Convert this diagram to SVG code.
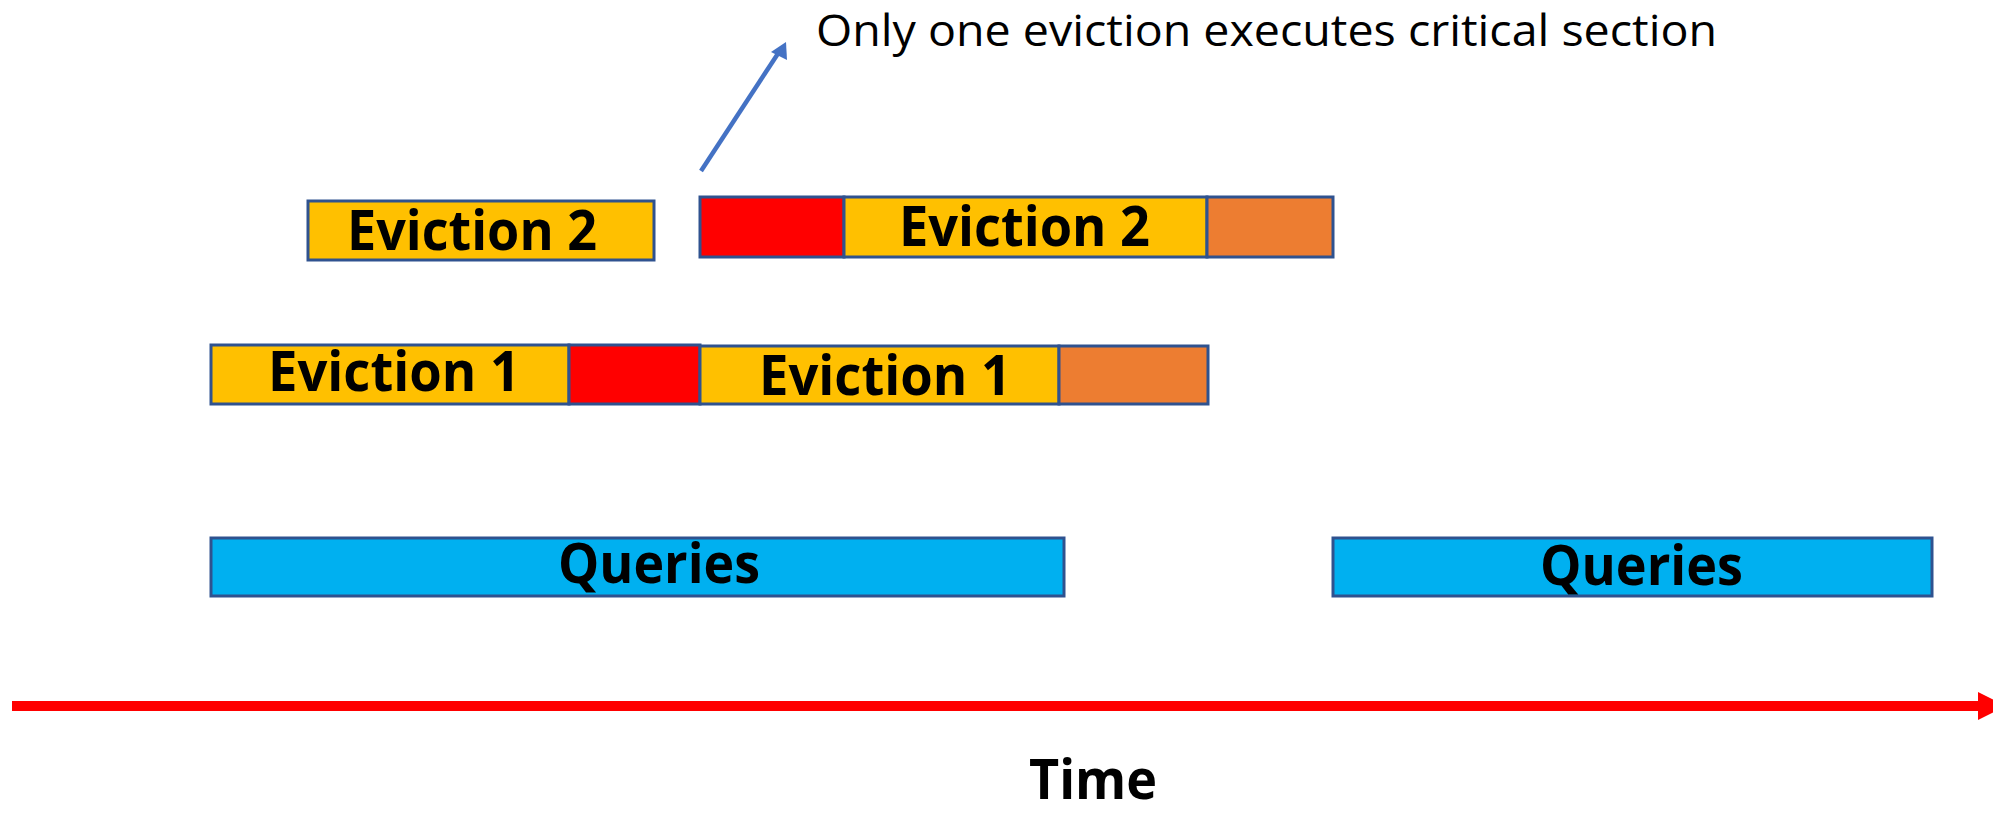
<svg xmlns="http://www.w3.org/2000/svg" width="1993" height="816" viewBox="0 0 1993 816">
  <style>
    .seg { stroke: #2F528F; stroke-width: 3; }
    .wait { fill: #FFC000; }
    .crit { fill: #FF0000; }
    .post { fill: #ED7D31; }
    .query { fill: #00B0F0; }
    .lbl { font-family: "Open Sans", "Noto Sans", "Liberation Sans", sans-serif; font-weight: bold; font-size: 56px; fill: #000; }
    .note { font-family: "Open Sans", "Noto Sans", "Liberation Sans", sans-serif; font-size: 44px; fill: #000; }
  </style>
  <rect width="1993" height="816" fill="#FFFFFF"/>

  <!-- Eviction 2, first attempt -->
  <g id="eviction2-a">
    <rect class="seg wait" x="308" y="201" width="346" height="59"/>
    <text class="lbl" x="347" y="250" textLength="250" lengthAdjust="spacingAndGlyphs">Eviction 2</text>
  </g>

  <!-- Eviction 2, second attempt: critical, work, tail -->
  <g id="eviction2-b">
    <rect class="seg crit" x="700" y="197" width="144" height="60"/>
    <rect class="seg wait" x="844" y="197" width="363" height="60"/>
    <rect class="seg post" x="1207" y="197" width="126" height="60"/>
    <text class="lbl" x="899" y="246" textLength="251" lengthAdjust="spacingAndGlyphs">Eviction 2</text>
  </g>

  <!-- Eviction 1: work, critical, work, tail -->
  <g id="eviction1">
    <rect class="seg wait" x="211" y="345" width="358" height="59"/>
    <rect class="seg crit" x="569" y="345" width="131" height="59"/>
    <rect class="seg wait" x="700" y="346" width="359" height="58"/>
    <rect class="seg post" x="1059" y="346" width="149" height="58"/>
    <text class="lbl" x="268" y="391" textLength="252" lengthAdjust="spacingAndGlyphs">Eviction 1</text>
    <text class="lbl" x="759" y="395" textLength="252" lengthAdjust="spacingAndGlyphs">Eviction 1</text>
  </g>

  <!-- Query phases -->
  <g id="queries-a">
    <rect class="seg query" x="211" y="538" width="853" height="58"/>
    <text class="lbl" x="558" y="583" textLength="202" lengthAdjust="spacingAndGlyphs">Queries</text>
  </g>
  <g id="queries-b">
    <rect class="seg query" x="1333" y="538" width="599" height="58"/>
    <text class="lbl" x="1540" y="585" textLength="203" lengthAdjust="spacingAndGlyphs">Queries</text>
  </g>

  <!-- Annotation -->
  <g id="note">
    <text class="note" x="816" y="46" textLength="901" lengthAdjust="spacingAndGlyphs">Only one eviction executes critical section</text>
  </g>

  <!-- Time axis label -->
  <g id="time-label">
    <text class="lbl" x="1029" y="799" font-size="54" textLength="128" lengthAdjust="spacingAndGlyphs">Time</text>
  </g>

  <g id="connectors">
    <line x1="701" y1="171" x2="781" y2="49" stroke="#4472C4" stroke-width="4.5"/>
    <polygon points="786,42 787,60 771,52" fill="#4472C4"/>
    <line x1="12" y1="706" x2="1980" y2="706" stroke="#FF0000" stroke-width="10"/>
    <polygon points="1978,692 2006,706 1978,720" fill="#FF0000"/>
  </g>
</svg>
